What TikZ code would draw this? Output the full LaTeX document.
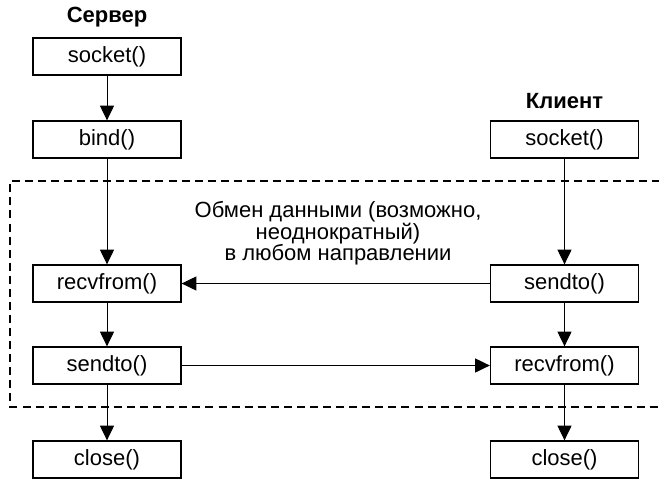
\documentclass[tikz,border=0pt]{standalone}
\usepackage{fontspec}
\setmainfont{Liberation Sans}
\usetikzlibrary{arrows.meta}
\begin{document}
\begin{tikzpicture}[x=0.75pt,y=-0.75pt,
  box/.style={draw,line width=1pt,minimum width=111pt,minimum height=27.75pt,inner sep=0pt,font=\fontsize{16.5}{18}\selectfont},
  title/.style={font=\fontsize{16.5}{18}\selectfont\bfseries},
  arr/.style={-{Triangle[length=11pt,width=10.5pt]},line width=0.75pt},
  frame/.style={dashed,dash pattern=on 6pt off 3.8pt,line width=0.9pt}]
\useasboundingbox (0,0) rectangle (659,482);
\node[title] (tS) at (107,17) {Сервер};
\node[title] (tC) at (564.5,101) {Клиент};
\node[box] (s1) at (107,56.5) {socket()};
\node[box] (b1) at (107,139.5) {bind()};
\node[box] (r1) at (107,283.5) {recvfrom()};
\node[box] (w1) at (107,365.5) {sendto()};
\node[box] (c1) at (107,459.5) {close()};
\node[box] (s2) at (564.5,139.5) {socket()};
\node[box] (w2) at (564.5,283.5) {sendto()};
\node[box] (r2) at (564.5,365.5) {recvfrom()};
\node[box] (c2) at (564.5,459.5) {close()};
\draw[frame] (660,181) -- (10,181) -- (10,407) -- (660,407);
\node[align=center,font=\fontsize{16.5}{16.2}\selectfont] (txt) at (338,233.5) {Обмен данными (возможно,\\неоднократный)\\в любом направлении};
\draw[arr] (s1) -- (b1);
\draw[arr] (b1) -- (r1);
\draw[arr] (r1) -- (w1);
\draw[arr] (w1) -- (c1);
\draw[arr] (s2) -- (w2);
\draw[arr] (w2) -- (r2);
\draw[arr] (r2) -- (c2);
\draw[arr] (w2) -- (r1);
\draw[arr] (w1) -- (r2);
\end{tikzpicture}
\end{document}
